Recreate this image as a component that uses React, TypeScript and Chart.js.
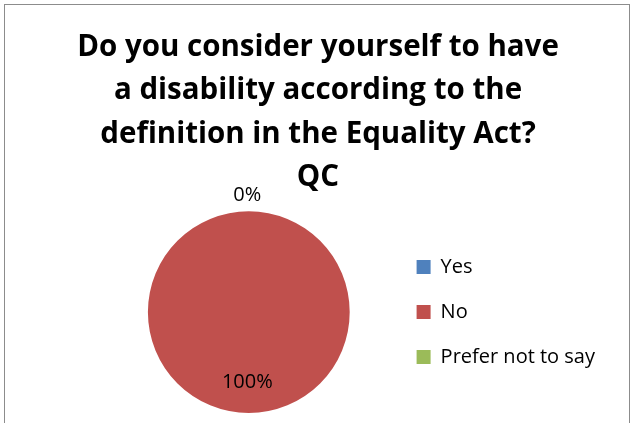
import React, { useEffect, useRef } from "react";
import { Chart, registerables } from "chart.js";

Chart.register(...registerables);

const titleLines = [
  "Do you consider yourself to have",
  "a disability according to the",
  "definition in the Equality Act?",
  "QC",
];
const categories = ["Yes", "No", "Prefer not to say"];
const percentages = [0, 100, 0];
const sliceColors = ["#4F81BD", "#C0504D", "#9BBB59"];

const FONT = "'Open Sans', Lato, sans-serif";

const titleSpanPlugin = {
  id: "titleSpan",
  afterLayout(chart: any) {
    const t = chart.titleBlock;
    if (t) {
      t.left = 5;
      t.right = chart.width;
      t.width = t.right - t.left;
    }
  },
};

const pctLabelPlugin = {
  id: "pctLabels",
  afterDatasetsDraw(chart: any) {
    const ctx = chart.ctx;
    const meta = chart.getDatasetMeta(0);
    const data = chart.data.datasets[0].data as number[];
    const drawn: string[] = [];
    ctx.save();
    ctx.font = `20px ${FONT}`;
    ctx.fillStyle = "#000000";
    ctx.textAlign = "center";
    ctx.textBaseline = "middle";
    meta.data.forEach((arc: any, i: number) => {
      const v = data[i];
      const { x, y, startAngle, endAngle, outerRadius } = arc.getProps(
        ["x", "y", "startAngle", "endAngle", "outerRadius"],
        true
      );
      const mid = (startAngle + endAngle) / 2;
      const r = v === 0 ? outerRadius + 16 : outerRadius * 0.7;
      const lx = x + Math.cos(mid) * r - 1.5;
      const ly = y + Math.sin(mid) * r;
      const key = `${Math.round(lx)},${Math.round(ly)}`;
      if (drawn.includes(key)) return;
      drawn.push(key);
      ctx.fillText(`${v}%`, lx, ly);
    });
    ctx.restore();
  },
};

export default function App() {
  const ref = useRef<HTMLCanvasElement | null>(null);
  useEffect(() => {
    if (!ref.current) return;
    const chart = new Chart(ref.current, {
      type: "pie",
      data: {
        labels: categories,
        datasets: [
          {
            data: percentages,
            backgroundColor: sliceColors,
            borderWidth: 0,
            hoverOffset: 0,
          },
        ],
      },
      options: {
        responsive: false,
        animation: false,
        layout: { padding: { left: 106, right: 26, top: 0, bottom: 10 } },
        plugins: {
          title: {
            display: true,
            text: titleLines,
            color: "#000000",
            font: { family: FONT, size: 29.5, weight: "bold", lineHeight: 43.3 / 29.5 },
            padding: { top: 26, bottom: 12 },
          },
          legend: {
            display: true,
            position: "right",
            align: "center",
            fullSize: false,
            labels: {
              color: "#000000",
              font: { family: FONT, size: 20 },
              boxWidth: 14,
              boxHeight: 14,
              padding: 25,
            },
          },
          tooltip: { enabled: false },
        },
      },
      plugins: [titleSpanPlugin, pctLabelPlugin],
    });
    return () => chart.destroy();
  }, []);
  return (
    <div style={{ position: "absolute", left: 0, top: 0, width: 631, height: 423, background: "#fff", overflow: "hidden" }}>
      <div
        style={{
          position: "absolute",
          left: 4,
          top: 4,
          width: 624,
          height: 440,
          border: "1px solid #8c8c8c",
        }}
      />
      <canvas ref={ref} width={631} height={423} style={{ position: "absolute", left: 0, top: 0, width: 631, height: 423 }} />
    </div>
  );
}
